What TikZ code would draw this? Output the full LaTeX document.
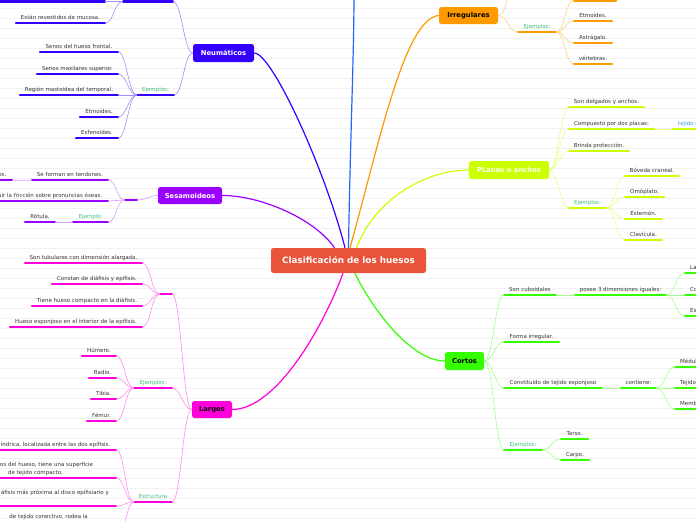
\documentclass[tikz,border=0pt]{standalone}
\usepackage{fontspec}
\setmainfont{DejaVu Sans}
\definecolor{cRed}{HTML}{E8533A}
\definecolor{cNeu}{HTML}{3300FF}
\definecolor{cNeuL}{HTML}{9D90FF}
\definecolor{cBlue}{HTML}{2266FF}
\definecolor{cIrr}{HTML}{FF9900}
\definecolor{cIrrL}{HTML}{FFCF85}
\definecolor{cPla}{HTML}{CCFF00}
\definecolor{cPlaL}{HTML}{E6FF80}
\definecolor{cSes}{HTML}{9900FF}
\definecolor{cSesL}{HTML}{D79CFF}
\definecolor{cLar}{HTML}{FF00DD}
\definecolor{cLarL}{HTML}{FF8AF0}
\definecolor{cCor}{HTML}{33FF00}
\definecolor{cCorL}{HTML}{A6FF8C}
\definecolor{txt}{HTML}{333333}
\definecolor{eg}{HTML}{3DC07A}
\definecolor{tj}{HTML}{3399DD}
\definecolor{bgl}{HTML}{F1F1F1}
\newcommand\itm[6]{%
  \coordinate (#1-l) at (#2,#4); \coordinate (#1-r) at (#3,#4);
  \draw[bar,draw=#5] (#1-l) -- (#1-r);
  \node[itxt, anchor=base] (#1) at ({(#2+#3)/2},{#4-3.6}) {#6};}
\newcommand\itmr[6]{%
  \coordinate (#1-l) at (#2,#4); \coordinate (#1-r) at (#3,#4);
  \draw[bar,draw=#5] (#1-l) -- (#1-r);
  \node[itxt, anchor=base east] (#1) at ({#3-5.5},{#4-3.6}) {#6};}
\newcommand\itml[6]{%
  \coordinate (#1-l) at (#2,#4); \coordinate (#1-r) at (#3,#4);
  \draw[bar,draw=#5] (#1-l) -- (#1-r);
  \node[itxt, anchor=base west] (#1) at ({#2+5},{#4-3.6}) {#6};}
\newcommand\cnL[3]{\draw[conn,draw=#3] (#1) .. controls +(-9,0) and +(9,0) .. (#2);}
\newcommand\cnR[3]{\draw[conn,draw=#3] (#1) .. controls +(9,0) and +(-9,0) .. (#2);}
\begin{document}
\begin{tikzpicture}[x=1pt,y=-1pt,
  bar/.style={line width=2.4pt,line cap=round},
  conn/.style={line width=0.6pt},
  main/.style={line width=1.2pt},
  itxt/.style={inner sep=0pt,font=\fontsize{5.5}{6.6}\selectfont,text=txt},
  box/.style={rounded corners=2.5pt,inner sep=0pt,font=\bfseries\fontsize{6.8}{8}\selectfont}]
\useasboundingbox (0,0) rectangle (696,520);
\fill[white] (0,0) rectangle (696,520);
\foreach \yy in {8.3,18.3,...,518.3} \draw[bgl,line width=0.6pt] (0,\yy) -- (696,\yy);

% ---------- main nodes
\node[box,fill=cRed,text=white,minimum width=155pt,minimum height=25pt,font=\bfseries\fontsize{8.8}{10}\selectfont] (cen) at (348.5,260.5) {Clasificación de los huesos};
\node[box,fill=cNeu,text=white,minimum width=61pt,minimum height=18pt] (neu) at (223.5,53) {Neumáticos};
\node[box,fill=cIrr,text=black,minimum width=59pt,minimum height=17pt] (irr) at (468.5,15.5) {Irregulares};
\node[box,fill=cPla,text=white,minimum width=80pt,minimum height=18pt] (pla) at (509,170) {PLanos o anchos};
\node[box,fill=cSes,text=white,minimum width=64pt,minimum height=17pt] (ses) at (190,195.5) {Sesamoideos};
\node[box,fill=cLar,text=black,minimum width=40pt,minimum height=17pt] (lar) at (212,409.5) {Largos};
\node[box,fill=cCor,text=black,minimum width=39pt,minimum height=18pt] (cor) at (464.5,361) {Cortos};
\coordinate (up) at (354,-6);

% ---------- main connectors
\draw[main,cBlue] ([xshift=0pt]cen.north) .. controls +(1.5,-100) and +(0,60) .. (up);
\draw[main,cNeu] (neu.east) .. controls +(18,0) and +(-20,-78) .. ([xshift=-3.5pt]cen.north);
\draw[main,cIrr] (irr.west) .. controls +(-34,3) and +(30,-108) .. ([xshift=1.5pt]cen.north);
\draw[main,cPla] (pla.west) .. controls +(-44,0) and +(18,-48) .. ([xshift=8pt]cen.north);
\draw[main,cSes] (ses.east) .. controls +(40,0) and +(-19,-28) .. ([xshift=-14pt]cen.north);
\draw[main,cLar] (lar.east) .. controls +(43,0) and +(-21,57) .. ([xshift=-5.5pt]cen.south);
\draw[main,cCor] (cor.west) .. controls +(-35,0) and +(15,32) .. ([xshift=6.5pt]cen.south);

% ---------- Neumáticos
\itm{n1}{123}{173}{1.5}{cNeu}{}
\itm{n1a}{-5}{105}{1.5}{cNeu}{}
\itm{n1b}{16}{105}{23}{cNeu}{Están revestidos de mucosa.}
\itm{nE}{137}{174}{95}{cNeu}{\textcolor{eg}{Ejemplos:}}
\itm{nE1}{40}{118}{52}{cNeu}{Senos del hueso frontal.}
\itm{nE2}{37}{118}{74}{cNeu}{Senos maxilares superior.}
\itm{nE3}{20}{118}{95}{cNeu}{Región mastoidea del temporal.}
\itm{nE4}{80}{118}{117}{cNeu}{Etmoides.}
\itm{nE5}{76}{118}{138}{cNeu}{Esfenoides.}
\cnL{neu.west}{n1-r}{cNeuL}
\cnL{neu.west}{nE-r}{cNeuL}
\cnL{n1-l}{n1a-r}{cNeuL}
\cnL{n1-l}{n1b-r}{cNeuL}
\foreach \k in {1,...,5} {\cnL{nE-l}{nE\k-r}{cNeuL}}

% ---------- Sesamoideos
\itm{s0}{125}{137}{200}{cSes}{}
\itm{s1}{32}{108}{180}{cSes}{Se forman en tendones.}
\itmr{s1a}{-5}{12}{180}{cSes}{os.}
\itmr{s2}{-5}{108}{201}{cSes}{uir la fricción sobre pronuncias óseas.}
\itm{sE}{73}{108}{222}{cSes}{\textcolor{eg}{Ejemplo:}}
\itm{sE1}{25}{55}{222}{cSes}{Rótula.}
\cnL{ses.west}{s0-r}{cSesL}
\cnL{s0-l}{s1-r}{cSesL}
\cnL{s0-l}{s2-r}{cSesL}
\cnL{s0-l}{sE-r}{cSesL}
\cnL{s1-l}{s1a-r}{cSesL}
\cnL{sE-l}{sE1-r}{cSesL}

% ---------- Largos
\itm{l0}{160}{172}{294}{cLar}{}
\itm{l01}{25}{142}{263}{cLar}{Son tubulares con dimensión alargada.}
\itm{l02}{52}{142}{284}{cLar}{Constan de diáfisis y epífisis.}
\itm{l03}{32}{142}{306}{cLar}{Tiene hueso compacto en la diáfisis.}
\itm{l04}{10}{142}{327}{cLar}{Hueso esponjoso en el interior de la epífisis.}
\itm{lE}{134}{172}{388}{cLar}{\textcolor{eg}{Ejemplos:}}
\itm{lE1}{82}{116}{356}{cLar}{Húmero.}
\itm{lE2}{89}{116}{378}{cLar}{Radio.}
\itm{lE3}{91}{116}{399}{cLar}{Tibia.}
\itm{lE4}{87}{116}{421}{cLar}{Fémur.}
\itm{lS}{134}{172}{502}{cLar}{\textcolor{eg}{Estructura}}
\itmr{lS1}{-5}{116}{450}{cLar}{índrica, localizada entre las dos epífisis.}
\coordinate (lS2-l) at (-5,478); \coordinate (lS2-r) at (116,478);
\draw[bar,draw=cLar] (lS2-l) -- (lS2-r);
\node[itxt,anchor=base west] (lS2) at (0,466) {os del hueso, tiene una superficie};
\node[itxt,anchor=base west] (lS2b) at (8,474.5) {de tejido compacto.};
\coordinate (lS3-l) at (-5,506); \coordinate (lS3-r) at (116,506);
\draw[bar,draw=cLar] (lS3-l) -- (lS3-r);
\node[itxt,anchor=base east] (lS3) at (109,494.5) {áfisis más próxima al disco epifisiario y};
\node[itxt,anchor=base east] (lS4) at (88,518.6) {de tejido conectivo, rodea la};
\coordinate (lS4c) at (116,545);
\cnL{lar.west}{l0-r}{cLarL}
\cnL{lar.west}{lE-r}{cLarL}
\cnL{lar.west}{lS-r}{cLarL}
\foreach \k in {1,...,4} {\cnL{l0-l}{l0\k-r}{cLarL}}
\foreach \k in {1,...,4} {\cnL{lE-l}{lE\k-r}{cLarL}}
\cnL{lS-l}{lS1-r}{cLarL}
\cnL{lS-l}{lS2-r}{cLarL}
\cnL{lS-l}{lS3-r}{cLarL}
\cnL{lS-l}{lS4c}{cLarL}

% ---------- Irregulares
\coordinate (iU) at (515,-12);
\itm{iE}{518}{556}{32}{cIrr}{\textcolor{eg}{Ejemplos:}}
\itm{iT}{574}{616}{0.5}{cIrr}{}
\itm{iE1}{574}{612}{21}{cIrr}{Etmoides.}
\itm{iE2}{574}{612}{43}{cIrr}{Astrágalo.}
\itm{iE3}{574}{612}{64}{cIrr}{vértebras.}
\cnR{irr.east}{iE-l}{cIrrL}
\cnR{irr.east}{iU}{cIrrL}
\cnR{iE-r}{iT-l}{cIrrL}
\foreach \k in {1,2,3} {\cnR{iE-r}{iE\k-l}{cIrrL}}

% ---------- PLanos o anchos
\itm{p1}{569}{644}{107}{cPla}{Son delgados y anchos.}
\itm{p2}{569}{654}{129}{cPla}{Compuesto por dos placas:}
\itml{p2a}{673}{702}{129}{cPla}{\textcolor{tj}{tejido c}}
\itm{p3}{569}{629}{151}{cPla}{Brinda protección.}
\itm{pE}{569}{606}{208}{cPla}{\textcolor{eg}{Ejemplos:}}
\itm{pE1}{625}{679}{176}{cPla}{Bóveda craneal.}
\itm{pE2}{625}{664}{197}{cPla}{Omóplato.}
\itm{pE3}{625}{662}{219}{cPla}{Esternón.}
\itm{pE4}{625}{662}{240}{cPla}{Clavícula.}
\cnR{pla.east}{p1-l}{cPlaL}
\cnR{pla.east}{p2-l}{cPlaL}
\cnR{pla.east}{p3-l}{cPlaL}
\cnR{pla.east}{pE-l}{cPlaL}
\cnR{p2-r}{p2a-l}{cPlaL}
\foreach \k in {1,...,4} {\cnR{pE-r}{pE\k-l}{cPlaL}}

% ---------- Cortos
\itm{c1}{504}{556}{295}{cCor}{Son cuboidales}
\itm{c1a}{575}{666}{295}{cCor}{posee 3 dimensiones iguales:}
\itml{c1a1}{685}{702}{273}{cCor}{La}
\itml{c1a2}{685}{702}{295}{cCor}{Co}
\itml{c1a3}{685}{702}{316}{cCor}{Es}
\itm{c2}{504}{559}{342}{cCor}{Forma irregular.}
\itm{c3}{504}{602}{388}{cCor}{Constituido de tejido esponjoso}
\itm{c3a}{621}{656}{388}{cCor}{contiene:}
\itml{c3a1}{675}{702}{367}{cCor}{Médul}
\itml{c3a2}{675}{702}{388}{cCor}{Tejido}
\itml{c3a3}{675}{702}{409}{cCor}{Memb}
\itm{cE}{504}{542}{450}{cCor}{\textcolor{eg}{Ejemplos:}}
\itm{cE1}{561}{588}{439}{cCor}{Tarso.}
\itm{cE2}{561}{589}{460}{cCor}{Carpo.}
\cnR{cor.east}{c1-l}{cCorL}
\cnR{cor.east}{c2-l}{cCorL}
\cnR{cor.east}{c3-l}{cCorL}
\cnR{cor.east}{cE-l}{cCorL}
\cnR{c1-r}{c1a-l}{cCorL}
\foreach \k in {1,2,3} {\cnR{c1a-r}{c1a\k-l}{cCorL}}
\cnR{c3-r}{c3a-l}{cCorL}
\foreach \k in {1,2,3} {\cnR{c3a-r}{c3a\k-l}{cCorL}}
\cnR{cE-r}{cE1-l}{cCorL}
\cnR{cE-r}{cE2-l}{cCorL}
\end{tikzpicture}
\end{document}
